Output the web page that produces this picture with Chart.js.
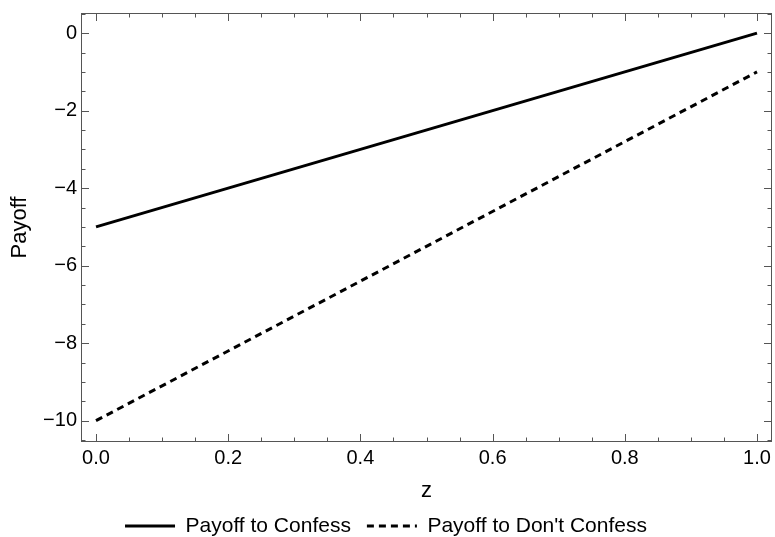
<!DOCTYPE html>
<html>
<head>
<meta charset="utf-8">
<script src="https://cdn.jsdelivr.net/npm/chart.js@4.4.1/dist/chart.umd.min.js"></script>
<style>
  html, body { margin: 0; padding: 0; background: #fff; }
  #wrap { width: 775px; height: 537px; }
</style>
</head>
<body>
<div id="wrap"><canvas id="grafico" width="775" height="537"></canvas></div>
<script>
const zValores = [0, 1];
const pagoConfesar = [-5, 0];
const pagoNoConfesar = [-10, -1];
const ticksX = [0, 0.2, 0.4, 0.6, 0.8, 1.0];
const ticksY = [0, -2, -4, -6, -8, -10];

const FUENTE = "'Liberation Sans', Arial, sans-serif";
const GRIS = '#555555';

// ticks hacia dentro y marco completo, como en Mathematica
const marcoPlugin = {
  id: 'marco',
  afterDatasetsDraw(chart) {
    const ctx = chart.ctx;
    const a = chart.chartArea;
    const sx = chart.scales.x;
    const sy = chart.scales.y;
    ctx.save();
    ctx.strokeStyle = GRIS;
    ctx.lineWidth = 1;
    ctx.strokeRect(a.left + 0.5, a.top + 0.5, a.right - a.left - 1, a.bottom - a.top - 1);
    ctx.beginPath();
    for (let i = 0; i <= 20; i++) {
      const v = i * 0.05;
      const px = Math.round(sx.getPixelForValue(v)) + 0.5;
      const len = (i % 4 === 0) ? 8 : 4.5;
      ctx.moveTo(px, a.bottom); ctx.lineTo(px, a.bottom - len);
      ctx.moveTo(px, a.top); ctx.lineTo(px, a.top + len);
    }
    for (let i = -21; i <= 1; i++) {
      const v = i * 0.5;
      const py = Math.round(sy.getPixelForValue(v)) + 0.5;
      if (py < a.top || py > a.bottom) continue;
      const len = (i % 4 === 0) ? 8 : 4.5;
      ctx.moveTo(a.left, py); ctx.lineTo(a.left + len, py);
      ctx.moveTo(a.right, py); ctx.lineTo(a.right - len, py);
    }
    ctx.stroke();
    ctx.restore();
  }
};

const datos = {
  datasets: [
    {
      label: 'Payoff to Confess',
      data: zValores.map((z, i) => ({ x: z, y: pagoConfesar[i] })),
      borderColor: '#000',
      backgroundColor: '#000',
      borderWidth: 3,
      pointRadius: 0
    },
    {
      label: "Payoff to Don't Confess",
      data: zValores.map((z, i) => ({ x: z, y: pagoNoConfesar[i] })),
      borderColor: '#000',
      backgroundColor: '#000',
      borderWidth: 3,
      borderDash: [7, 5],
      pointRadius: 0
    }
  ]
};

new Chart(document.getElementById('grafico'), {
  type: 'line',
  data: datos,
  options: {
    responsive: false,
    animation: false,
    layout: { padding: { left: 0, right: 3, top: 13, bottom: -9.5 } },
    plugins: {
      legend: {
        position: 'bottom',
        labels: {
          usePointStyle: true,
          pointStyle: 'line',
          pointStyleWidth: 50,
          color: '#000',
          font: { family: FUENTE, size: 21, lineHeight: 1 },
          padding: 16,
          boxHeight: 21,
          // con pointStyle se pierde el borderDash, lo volvemos a poner
          generateLabels: chart => Chart.defaults.plugins.legend.labels.generateLabels(chart)
            .map((it, i) => Object.assign(it, {
              lineDash: chart.data.datasets[i].borderDash || [],
              lineWidth: 3
            }))
        }
      },
      tooltip: { enabled: false }
    },
    scales: {
      x: {
        type: 'linear',
        min: -0.0227,
        max: 1.0227,
        grid: { display: false, drawTicks: false },
        border: { display: false },
        afterBuildTicks: s => { s.ticks = ticksX.map(v => ({ value: v })); },
        afterFit: s => { s.height = 57.5; s.paddingLeft = 0; s.paddingRight = 0; },
        ticks: {
          color: '#000',
          font: { family: FUENTE, size: 20 },
          padding: 4,
          maxRotation: 0,
          callback: v => v.toFixed(1)
        },
        title: {
          display: true,
          text: 'z',
          color: '#000',
          font: { family: FUENTE, size: 22 },
          padding: { top: 4, bottom: -5 }
        }
      },
      y: {
        min: -10.55,
        max: 0.52,
        grid: { display: false, drawTicks: false },
        border: { display: false },
        afterBuildTicks: s => { s.ticks = ticksY.map(v => ({ value: v })); },
        afterFit: s => { s.width = 81; s.paddingTop = 0; s.paddingBottom = 0; },
        ticks: {
          color: '#000',
          font: { family: FUENTE, size: 20 },
          padding: 4,
          callback: v => v < 0 ? '\u2212' + Math.abs(v) : String(v)
        },
        title: {
          display: true,
          text: 'Payoff',
          color: '#000',
          font: { family: FUENTE, size: 22 },
          padding: { top: 7, bottom: 4 }
        }
      }
    }
  },
  plugins: [marcoPlugin]
});
</script>
</body>
</html>
